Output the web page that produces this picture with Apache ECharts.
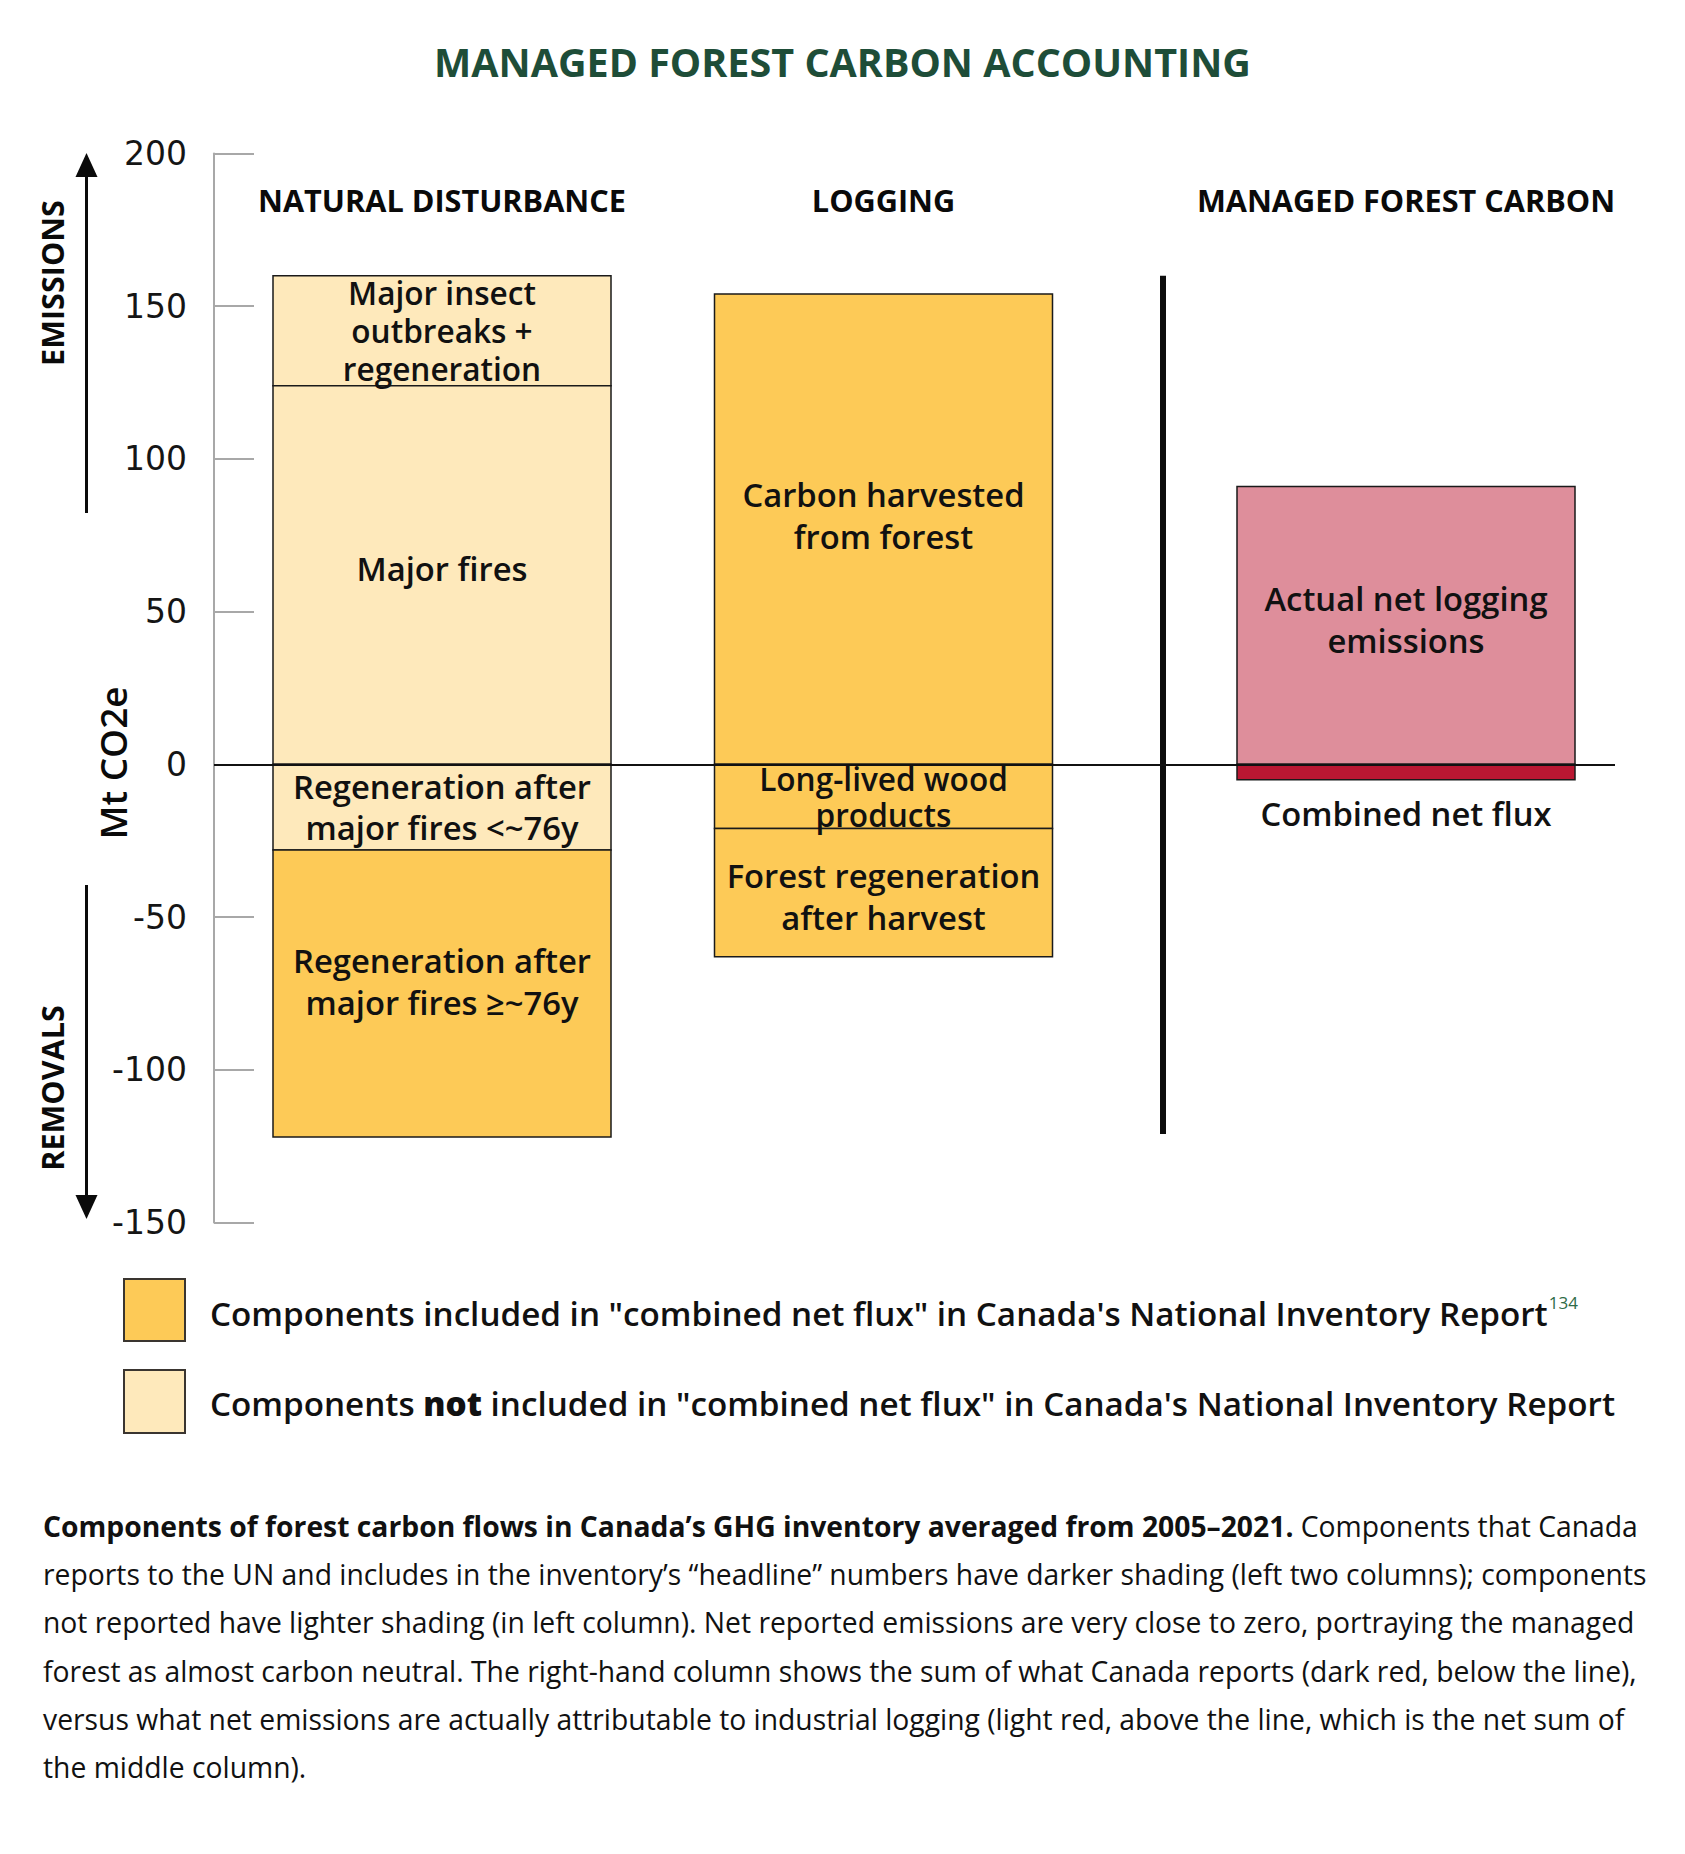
<!DOCTYPE html>
<html>
<head>
<meta charset="utf-8">
<script src="https://cdn.jsdelivr.net/npm/echarts@6/dist/echarts.min.js"></script>
<style>
html,body{margin:0;padding:0;background:#fff;}
#chart{width:1685px;height:1854px;}
</style>
</head>
<body>
<div id="chart"></div>
<script>
// ---------------- DATA ----------------
const columnNames = ['NATURAL DISTURBANCE', 'LOGGING', 'MANAGED FOREST CARBON'];
const segmentLabels = [
  'Major insect\noutbreaks +\nregeneration',
  'Major fires',
  'Regeneration after\nmajor fires <~76y',
  'Regeneration after\nmajor fires ≥~76y',
  'Carbon harvested\nfrom forest',
  'Long-lived wood\nproducts',
  'Forest regeneration\nafter harvest',
  'Actual net logging\nemissions',
  'Combined net flux'
];
const segmentColumn = [0, 0, 0, 0, 1, 1, 1, 2, 2];
const segmentBottom = [124, 0, -28, -122, 0, -21, -63, 0, -5];
const segmentTop    = [160, 124, 0, -28, 154, 0, -21, 91, 0];
const segmentKind   = ['excluded', 'excluded', 'excluded', 'included', 'included', 'included', 'included', 'actual', 'reported'];
const separatorRange = [-121, 160];
const yTicks = [-150, -100, -50, 0, 50, 100, 150, 200];
const legendTexts = [
  'Components included in "combined net flux" in Canada\'s National Inventory Report',
  'Components not included in "combined net flux" in Canada\'s National Inventory Report'
];
const captionBold = 'Components of forest carbon flows in Canada’s GHG inventory averaged from 2005–2021.';
const captionLines = [
  ' Components that Canada',
  'reports to the UN and includes in the inventory’s “headline” numbers have darker shading (left two columns); components',
  'not reported have lighter shading (in left column). Net reported emissions are very close to zero, portraying the managed',
  'forest as almost carbon neutral. The right-hand column shows the sum of what Canada reports (dark red, below the line),',
  'versus what net emissions are actually attributable to industrial logging (light red, above the line, which is the net sum of',
  'the middle column).'
];

// ---------------- LAYOUT / STYLE ----------------
const GRID = {left: 214, top: 153.5, right: 70, bottom: 631.5};
const X_MAX = 1401;
const colX = [228, 669.5, 1192];
const separatorX = 949;
const BAR_W = 338;
const FAM = '"Open Sans", Lato, sans-serif';
const kindColor = {excluded: '#fee9bb', included: '#fdca57', actual: '#de8e9b', reported: '#ba1732'};
const labelDy = [0, -6, 0, -12, -14, 0, 4, -6, 0];
const labelLH = [38.3, 40, 41, 42, 42, 36, 42, 42, 40];
const W_LABEL = '600';

// font-size fitting helper (matches reference text widths)
const _ctx = document.createElement('canvas').getContext('2d');
function fit(text, weight, target, base) {
  _ctx.font = weight + ' ' + base + 'px ' + FAM;
  const w = _ctx.measureText(text).width;
  return +(base * target / w).toFixed(2);
}
const labelSize = fit('Regeneration after', W_LABEL, 298, 30);
const tightSize = fit('Major insect', W_LABEL, 188, 30);
const headerSize = fit('NATURAL DISTURBANCE', 'bold', 368, 26);
const titleSize = fit('MANAGED FOREST CARBON ACCOUNTING', 'bold', 817, 36);
const legendSize = fit(legendTexts[0], W_LABEL, 1338, 30);
const capSize = fit(captionLines[1], 'normal', 1604, 26);
const sideSize = fit('EMISSIONS', 'bold', 166, 25);
const unitSize = fit('Mt CO2e', W_LABEL, 153, 36);

const chart = echarts.init(document.getElementById('chart'), null, {renderer: 'svg'});

const segData = segmentLabels.map((n, i) => [colX[segmentColumn[i]], segmentBottom[i], segmentTop[i], i]);

function renderSeg(params, api) {
  const i = api.value(3);
  const xc = api.value(0);
  const pTop = api.coord([xc, api.value(2)]);
  const pBot = api.coord([xc, api.value(1)]);
  const w = api.size([BAR_W, 0])[0];
  const kind = segmentKind[i];
  const children = [{
    type: 'rect',
    shape: {x: pTop[0] - w / 2, y: pTop[1], width: w, height: pBot[1] - pTop[1]},
    style: {fill: kindColor[kind], stroke: '#1a1a1a', lineWidth: 1.5}
  }];
  let ty = (pTop[1] + pBot[1]) / 2 + labelDy[i];
  if (kind === 'reported') ty = pBot[1] + 34;
  const size = (i === 0 || i === 5) ? tightSize : labelSize;
  children.push({
    type: 'text',
    z2: 10,
    style: {
      text: segmentLabels[i], x: pTop[0], y: ty,
      align: 'center', verticalAlign: 'middle',
      fill: '#111', font: W_LABEL + ' ' + size + 'px ' + FAM,
      lineHeight: labelLH[i]
    }
  });
  return {type: 'group', children};
}

function renderSep(params, api) {
  const pTop = api.coord([api.value(0), api.value(2)]);
  const pBot = api.coord([api.value(0), api.value(1)]);
  return {type: 'rect', shape: {x: pTop[0] - 3, y: pTop[1], width: 6, height: pBot[1] - pTop[1]}, style: {fill: '#0d0d0d'}};
}

const option = {
  animation: false,
  backgroundColor: '#fff',
  grid: GRID,
  xAxis: {type: 'value', min: 0, max: X_MAX, show: false},
  yAxis: {
    type: 'value', min: -150, max: 200, interval: 50,
    axisLine: {show: true, lineStyle: {color: '#a8a8a8', width: 2}},
    axisTick: {show: true, inside: true, length: 40, lineStyle: {color: '#a8a8a8', width: 2}},
    splitLine: {show: false},
    axisLabel: {
      margin: 27, color: '#151515', fontFamily: 'DejaVu Sans', fontSize: 33,
      formatter: v => (yTicks.indexOf(v) >= 0 ? String(v) : '')
    }
  },
  series: [
    {
      type: 'custom', name: 'segments', renderItem: renderSeg, data: segData,
      encode: {x: 0, y: [1, 2]}, z: 2, silent: true, clip: false
    },
    {
      type: 'custom', name: 'separator', renderItem: renderSep,
      data: [[separatorX, separatorRange[0], separatorRange[1]]],
      encode: {x: 0, y: [1, 2]}, z: 3, silent: true
    },
    {
      type: 'line', name: 'zero', data: [], z: 5, silent: true,
      markLine: {
        silent: true, symbol: ['none', 'none'], label: {show: false},
        lineStyle: {color: '#111', width: 2, type: 'solid'},
        data: [{yAxis: 0}]
      }
    }
  ]
};
chart.setOption(option);

// --------------- annotations ---------------
const headerY = 200;
const headers = columnNames.map((n, i) => {
  const px = chart.convertToPixel({gridIndex: 0}, [colX[i], 0])[0];
  return {type: 'text', x: px, y: headerY, style: {text: n, align: 'center', verticalAlign: 'middle', font: 'bold ' + headerSize + 'px ' + FAM, fill: '#0a0a0a'}};
});

function arrow(x, y1, y2, up) {
  const tip = up ? y1 : y2;
  const dir = up ? 1 : -1;
  return [
    {type: 'line', shape: {x1: x, y1: up ? y1 + 20 : y1, x2: x, y2: up ? y2 : y2 - 20}, style: {stroke: '#0a0a0a', lineWidth: 3}},
    {type: 'polygon', shape: {points: [[x, tip], [x - 11, tip + dir * 24], [x + 11, tip + dir * 24]]}, style: {fill: '#0a0a0a'}}
  ];
}

const capFont = capSize + 'px ' + FAM;
const capY0 = 1526, capLH = 48.2;
const caption = captionLines.map((t, k) => ({
  type: 'text', x: 43, y: capY0 + capLH * k,
  style: k === 0 ? {
    text: '{b|' + captionBold + '}' + t,
    verticalAlign: 'middle', font: capFont, fill: '#111',
    rich: {b: {font: 'bold ' + capSize + 'px ' + FAM, fill: '#111'}}
  } : {text: t, verticalAlign: 'middle', font: capFont, fill: '#111'}
}));

const legendEls = [
  {type: 'rect', shape: {x: 124, y: 1279, width: 61, height: 62}, style: {fill: kindColor.included, stroke: '#3a3530', lineWidth: 2}},
  {type: 'rect', shape: {x: 124, y: 1370, width: 61, height: 63}, style: {fill: kindColor.excluded, stroke: '#3a3530', lineWidth: 2}},
  {type: 'text', x: 210, y: 1313, style: {
    text: legendTexts[0] + '{sup|134}', verticalAlign: 'middle', font: W_LABEL + ' ' + legendSize + 'px ' + FAM, fill: '#111',
    rich: {sup: {font: '500 17px ' + FAM, fill: '#2e6b47', verticalAlign: 'top', padding: [0, 0, 22, 1]}}
  }},
  {type: 'text', x: 210, y: 1403, style: {
    text: legendTexts[1].replace(' not ', ' {b|not} '), verticalAlign: 'middle', font: W_LABEL + ' ' + legendSize + 'px ' + FAM, fill: '#111',
    rich: {b: {font: '800 ' + legendSize + 'px ' + FAM, fill: '#111'}}
  }}
];

chart.setOption({
  graphic: [
    {type: 'text', x: 842.5, y: 62, style: {text: 'MANAGED FOREST CARBON ACCOUNTING', align: 'center', verticalAlign: 'middle', font: 'bold ' + titleSize + 'px ' + FAM, fill: '#1e4d38'}},
    {type: 'text', x: 113, y: 763, rotation: Math.PI / 2, style: {text: 'Mt CO2e', align: 'center', verticalAlign: 'middle', font: W_LABEL + ' ' + unitSize + 'px ' + FAM, fill: '#0a0a0a'}},
    {type: 'text', x: 52, y: 283, rotation: Math.PI / 2, style: {text: 'EMISSIONS', align: 'center', verticalAlign: 'middle', font: 'bold ' + sideSize + 'px ' + FAM, fill: '#0a0a0a'}},
    {type: 'text', x: 52, y: 1088, rotation: Math.PI / 2, style: {text: 'REMOVALS', align: 'center', verticalAlign: 'middle', font: 'bold ' + sideSize + 'px ' + FAM, fill: '#0a0a0a'}}
  ].concat(headers, arrow(86.5, 153, 513, true), arrow(86.5, 885, 1219, false), legendEls, caption)
});
</script>
</body>
</html>
